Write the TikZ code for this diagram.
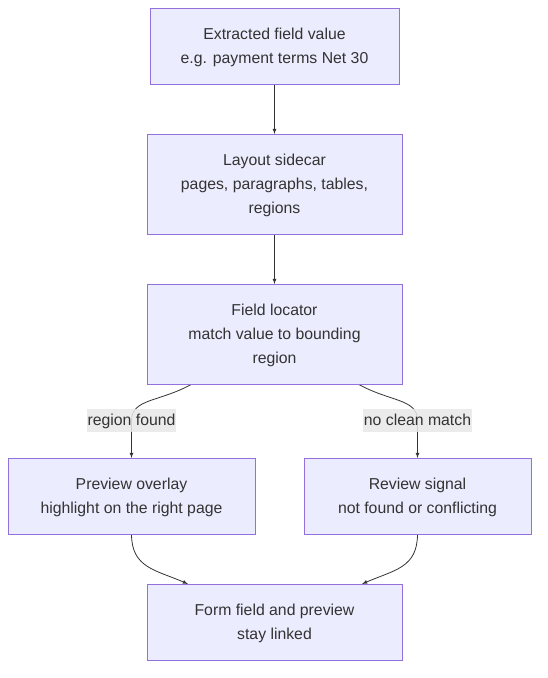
\documentclass[tikz,border=0pt]{standalone}
\usepackage{fontspec}
\setmainfont{Liberation Sans}
\usepackage{tikz}
\usetikzlibrary{calc,positioning,arrows,backgrounds}
\definecolor{boxfill}{HTML}{ECECFF}
\definecolor{boxline}{HTML}{9370DB}
\definecolor{edgeline}{HTML}{333333}
\definecolor{lblfill}{HTML}{E8E8E8}
\tikzset{
    flow nodes/.style={
        rectangle,
        draw=boxline,
        fill=boxfill,
        line width=0.8pt,
        align=center,
        text=edgeline,
        font=\fontsize{15.8}{24}\selectfont,
        inner sep=0pt,
        outer sep=0pt,
        text depth=0pt,
    },
    connector/.style={
        -latex,
        draw=edgeline,
        line width=0.8pt,
    },
    edge label/.style={
        fill=lblfill,
        fill opacity=0.85,
        text opacity=1,
        text=edgeline,
        font=\fontsize{15.8}{24}\selectfont,
        inner xsep=0.5pt,
        inner ysep=0pt,
        text height=16pt,
        text depth=7pt,
        outer sep=0pt,
    },
}

\begin{document}
\begin{tikzpicture}[x=1pt,y=-1pt]
    \useasboundingbox (0,0) rectangle (547,678);
    \node[flow nodes,minimum width=249pt,minimum height=76pt] (value) at (274.5,46) {Extracted field value\\e.g. payment terms Net 30};
    \node[flow nodes,minimum width=255pt,minimum height=100pt,below=50pt of value] (sidecar) {Layout sidecar\\pages, paragraphs, tables,\\regions};
    \node[flow nodes,minimum width=255pt,minimum height=100pt,below=50pt of sidecar] (locator) {Field locator\\match value to bounding\\region};
    \node[flow nodes,minimum width=247pt,minimum height=76pt,below=74pt of locator,xshift=-143pt] (overlay) {Preview overlay\\highlight on the right page};
    \node[flow nodes,minimum width=227pt,minimum height=76pt,below=74pt of locator,xshift=143pt] (review) {Review signal\\not found or conflicting};
    \node[flow nodes,minimum width=255pt,minimum height=76pt,below=50pt of overlay,xshift=143pt] (form) {Form field and preview\\stay linked};
    \node[edge label,above=26pt of overlay] (foundlbl) {region found};
    \node[edge label,above=26pt of review] (cleanlbl) {no clean match};
    \begin{scope}[on background layer]
    \draw[connector] (value) -- (sidecar);
    \draw[connector] (sidecar) -- (locator);
    \draw[connector] ([xshift=-82.5pt]locator.south) .. controls +(-32,18) and +(0,-22) .. (foundlbl.center) -- (overlay.north);
    \draw[connector] ([xshift=83.5pt]locator.south) .. controls +(32,18) and +(0,-22) .. (cleanlbl.center) -- (review.north);
    \draw[connector] (overlay.south) .. controls +(0,34) and +(-32,-14) .. ([xshift=-86.5pt]form.north);
    \draw[connector] (review.south) .. controls +(0,34) and +(32,-14) .. ([xshift=87.5pt]form.north);
    \end{scope}
\end{tikzpicture}
\end{document}
